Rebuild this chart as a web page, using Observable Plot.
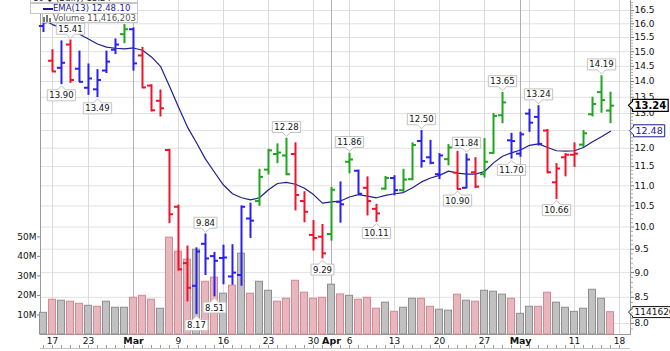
<!DOCTYPE html>
<html>
<head>
<meta charset="utf-8">
<script src="https://cdn.jsdelivr.net/npm/d3@7"></script>
<script src="https://cdn.jsdelivr.net/npm/@observablehq/plot@0.6"></script>
<style>
  body { margin: 0; background: #fff; }
  #wrap { position: relative; width: 670px; height: 351px; overflow: hidden; font-family: "DejaVu Sans", sans-serif; }
  #wrap svg { position: absolute; left: 0; top: 0; overflow: visible; }
  .lg { position: absolute; background: #fff; border: 1px solid #c6c6c6; box-sizing: border-box; font-size: 8.5px; line-height: 9px; white-space: nowrap; overflow: hidden; }
  .lg span { position: absolute; }
  #lg0 { left: 30px; top: -7px; width: 108px; height: 10px; color: #222; }
  #lg1 { left: 30px; top: 3px; width: 108px; height: 11px; color: #1c1c8c; }
  #lg2 { left: 42px; top: 13px; width: 96px; height: 10px; color: #555; }
  #baseline { position: absolute; left: 40px; top: 348px; width: 590px; height: 1px; background: #c4c4c4; }
</style>
</head>
<body>
<div id="wrap">
  <div id="chart"></div>
  <div id="baseline"></div>
  <div class="lg" id="lg0"><span style="left:2px;top:0px">10 ◆ (Daily) 13.24</span></div>
  <div class="lg" id="lg1"><span style="left:12px;top:3.5px;width:10px;height:2px;background:#1c1c8c"></span><span id="emaText" style="left:22px;top:-0.5px"></span></div>
  <div class="lg" id="lg2"><span style="left:0px;top:3px;width:2px;height:5px;background:#777"></span><span style="left:3px;top:1px;width:2px;height:7px;background:#777"></span><span style="left:6px;top:4px;width:2px;height:4px;background:#777"></span><span id="volText" style="left:10px;top:0px"></span></div>
</div>
<script>
// ---- data ----
const open = [15.92,14.69,14.45,15.25,14.42,13.8,13.75,14.36,15.07,15.62,
  15.8,14.87,13.87,13.39,11.95,10.48,9.2,8.73,9.62,9.35,
  9.31,8.92,8.95,10.2,10.62,11.42,11.84,11.8,11.84,10.62,
  9.82,9.78,9.84,10.6,11.63,11.39,10.95,10.43,10.93,11.2,
  10.89,11.17,12.2,11.75,11.3,11.7,11.34,10.95,11.35,11.3,
  11.87,12.95,12.22,11.85,13.0,12.9,12.5,11.09,11.75,11.82,
  12.1,12.98,13.66,13.09];
const high = [16.15,15.07,15.38,15.41,15.02,14.58,14.39,15.02,15.45,15.97,
  15.85,15.15,13.9,13.73,11.97,10.52,9.57,9.53,9.84,9.43,
  9.59,9.6,10.5,10.57,11.43,11.97,12.12,12.28,12.15,10.85,
  10.15,10.06,10.96,11.1,11.86,11.41,11.23,10.54,11.24,11.26,
  11.43,12.15,12.5,12.22,11.85,12.1,11.91,11.84,11.74,12.27,
  13.0,13.65,12.42,12.45,13.13,13.24,12.53,11.58,11.85,12.15,
  12.5,13.5,14.19,13.66];
const low = [15.68,14.31,13.9,13.94,13.97,13.56,13.49,14.26,14.9,15.28,
  14.34,13.77,13.05,12.9,10.08,9.03,8.41,8.17,8.94,8.51,
  8.75,8.74,8.72,9.74,10.49,11.28,11.58,11.26,10.38,10.1,
  9.46,9.29,9.68,10.09,11.31,10.79,10.26,10.11,10.89,10.75,
  10.83,11.13,11.46,11.55,11.16,11.52,10.9,10.92,10.93,11.2,
  11.83,12.7,11.7,11.75,12.45,12.06,11.31,10.66,11.23,11.48,
  12.02,12.9,13.01,12.7];
const close = [16.05,14.33,14.62,14.05,13.99,14.1,14.05,14.66,15.25,15.8,
  14.6,13.81,13.1,13.16,10.3,9.07,8.69,9.45,9.3,9.25,
  9.32,9.0,10.48,10.15,11.23,11.94,11.88,11.3,10.77,10.36,
  9.75,9.41,10.9,10.54,11.69,10.8,10.62,10.32,11.2,10.89,
  11.16,12.09,11.65,11.6,11.8,12.02,10.92,11.69,10.98,11.63,
  12.93,13.34,12.2,12.39,12.73,12.12,11.35,11.45,11.82,11.85,
  12.42,13.29,13.41,13.24];
const impulse = ["neutral","bear","neutral","bear","neutral","neutral","neutral","neutral","neutral","bull",
  "neutral","bear","bear","bear","bear","bear","bear","neutral","neutral","neutral",
  "neutral","neutral","neutral","neutral","bull","bull","bull","bull","bear","bear",
  "bear","bear","bull","neutral","bull","neutral","bear","bear","bull","neutral",
  "bull","bull","neutral","neutral","neutral","bull","bear","neutral","bear","bull",
  "bull","bull","neutral","neutral","neutral","neutral","bear","bear","bear","bear",
  "bull","bull","bull","bull"];
const volume = [11.1,17.8,17.3,16.8,15.7,14.7,14.2,16.8,13.7,13.7,
  18.8,19.8,17.8,13.2,49.6,42.4,38.3,43.4,27.0,29.1,
  20.9,25.0,41.4,20.9,27.0,22.4,16.8,18.3,27.5,21.4,
  18.3,18.8,25.5,20.5,19.8,17.8,18.8,13.2,16.3,11.6,
  13.7,18.3,18.3,14.2,12.7,12.2,20.4,17.3,16.8,22.4,
  21.9,20.4,18.3,10.6,14.2,14.2,21.4,16.3,13.7,11.6,
  13.2,22.9,18.3,11.416203].map(v => v * 1e6);
const ema13 = [16.15,15.97,15.85,15.74,15.62,15.45,15.27,15.16,15.12,15.1,
  15.13,15.05,14.82,14.5,13.85,13.2,12.6,12.15,11.7,11.35,
  11.02,10.8,10.7,10.65,10.7,10.9,11.06,11.09,11.04,10.94,
  10.78,10.57,10.6,10.62,10.72,10.78,10.74,10.7,10.76,10.8,
  10.83,10.95,11.1,11.2,11.27,11.38,11.33,11.3,11.3,11.37,
  11.6,11.78,11.87,11.95,12.08,12.12,12.02,11.93,11.92,11.93,
  12.02,12.18,12.32,12.48];
const pivots = [[3,"high"],[2,"low"],[6,"low"],[18,"high"],[17,"low"],[19,"low"],
  [27,"high"],[31,"low"],[34,"high"],[37,"low"],[42,"high"],[46,"low"],[47,"high"],
  [51,"high"],[52,"low"],[55,"high"],[57,"low"],[62,"high"]];
const priceTicks = [8,8.5,9,9.5,10,10.5,11,11.5,12,12.5,13,13.5,14,14.5,15,15.5,16,16.5];
const volumeTicks = [10e6,20e6,30e6,40e6,50e6];
const weekTicks = [1,5,15,20,25,30,34,39,44,49,59,64];
const weekLabels = ["17","23","9","16","23","30","6","13","20","27","11","18"];
const monthTicks = [10,32,53];
const monthLabels = ["Mar","Apr","May"];
const gridWeeks = [1,5,15,20,25,30,34,39,44,49,54,59,64];
const lastVolume = 11416203;

// ---- derived rows ----
const bars = open.map((o, i) => ({i, open: o, high: high[i], low: low[i], close: close[i], impulse: impulse[i]}));
const vols = volume.map((v, i) => ({i, v, up: i === 0 || close[i] >= close[i - 1]}));
const emaRows = ema13.map((e, i) => ({i, e}));
const pivotRows = pivots.map(([i, kind]) => ({i, kind, value: kind === "high" ? high[i] : low[i]}));
const lastClose = close[close.length - 1];
const lastEma = ema13[ema13.length - 1];
const minorTicks = d3.range(79, 169).map(d => d / 10).filter(d => Math.abs(d * 2 - Math.round(d * 2)) > 1e-6);
const dayTicks = d3.range(0, 65);

document.getElementById("emaText").textContent = "EMA(13) " + lastEma.toFixed(2) + "\u200A.10";
document.getElementById("volText").textContent = "Volume " + d3.format(",")(lastVolume);

const base = {
  width: 670, height: 351, marginLeft: 40, marginRight: 40, marginTop: 0, marginBottom: 17,
  style: {fontFamily: "DejaVu Sans, sans-serif", fontSize: "9px", background: "transparent", overflow: "visible", color: "#111"}
};
const xDomain = [-0.33, 65.22];
const priceY = {type: "log", domain: [7.8, 16.885]};

// layer A: grid and frame (price scale)
const layerA = Plot.plot({
  ...base,
  x: {domain: xDomain, axis: null},
  y: {...priceY, axis: null},
  marks: [
    Plot.ruleY(priceTicks, {stroke: "#e2e2e2"}),
    Plot.ruleX(gridWeeks, {stroke: "#dadada"}),
    Plot.ruleX(monthTicks, {stroke: "#b0b0b0"}),
    Plot.frame({anchor: "left", stroke: "#9a9a9a"}),
    Plot.frame({anchor: "bottom", stroke: "#9a9a9a"}),
    Plot.frame({anchor: "right", stroke: "#9a9a9a"})
  ]
});

// layer B: volume
const layerB = Plot.plot({
  ...base,
  x: {domain: xDomain},
  y: {domain: [0, 171e6]},
  marks: [
    Plot.rectY(vols, {filter: d => d.up, x1: d => d.i - 0.5, x2: d => d.i + 0.5, y: "v", insetLeft: 1, insetRight: 1, fill: "#c1c1c1", stroke: "#8e8e8e", strokeWidth: 1}),
    Plot.rectY(vols, {filter: d => !d.up, x1: d => d.i - 0.5, x2: d => d.i + 0.5, y: "v", insetLeft: 1, insetRight: 1, fill: "#e8b7be", stroke: "#d38893", strokeWidth: 1}),
    Plot.axisY({anchor: "left", ticks: volumeTicks, tickFormat: d => d / 1e6 + "M", tickSize: 3, tickPadding: 1, fontSize: 9, label: null, stroke: "#888"}),
    Plot.axisX({ticks: weekTicks, tickFormat: d => weekLabels[weekTicks.indexOf(d)], tickSize: 0, tickPadding: 3, fontSize: 9, label: null}),
    Plot.axisX({ticks: monthTicks, tickFormat: d => monthLabels[monthTicks.indexOf(d)], tickSize: 0, tickPadding: 3, fontSize: 9.5, fontWeight: "bold", label: null}),
    Plot.axisX({ticks: dayTicks, tickSize: 3, dy: 11, tickFormat: () => "", label: null, stroke: "#999"}),
    Plot.text([{v: lastVolume}], {y: "v", frameAnchor: "right", textAnchor: "start", dx: 4, text: d => String(d.v), fontSize: 9, fill: "#111", className: "tag-vol"})
  ]
});

// layer C: price bars, EMA, right axis, labels
const colorScale = {domain: ["bull", "bear", "neutral"], range: ["#1fa51f", "#f0132b", "#2b20f2"]};
const barMarks = [
  Plot.ruleX(bars, {x: "i", y1: "low", y2: "high", stroke: "impulse", strokeWidth: 2}),
  Plot.ruleY(bars, {y: "open", x1: d => d.i - 0.45, x2: d => d.i, stroke: "impulse", strokeWidth: 2}),
  Plot.ruleY(bars, {y: "close", x1: d => d.i, x2: d => d.i + 0.45, stroke: "impulse", strokeWidth: 2})
];
const layerC = Plot.plot({
  ...base,
  x: {domain: xDomain, axis: null},
  y: priceY,
  color: colorScale,
  marks: [
    Plot.axisY({anchor: "right", ticks: minorTicks, tickSize: 2, tickFormat: () => "", label: null, stroke: "#aaa"}),
    Plot.axisY({anchor: "right", ticks: priceTicks, tickSize: 3, tickPadding: 1, tickFormat: d => d.toFixed(1), fontSize: 9, label: null, stroke: "#777"}),
    Plot.line(emaRows, {x: "i", y: "e", stroke: "#1f1f8e", strokeWidth: 1.2}),
    ...barMarks,
    Plot.text(pivotRows, {filter: d => d.kind === "high", x: "i", y: "value", dy: -11, text: d => d.value.toFixed(2), fontSize: 8.5, fill: "#111", className: "pv-high"}),
    Plot.text(pivotRows, {filter: d => d.kind === "low", x: "i", y: "value", dy: 11, text: d => d.value.toFixed(2), fontSize: 8.5, fill: "#111", className: "pv-low"}),
    Plot.text([{v: lastEma}], {y: "v", frameAnchor: "right", textAnchor: "start", dx: 5, text: d => d.v.toFixed(2), fontSize: 9.5, fill: "#1c1c8c", className: "tag-ema"}),
    Plot.text([{v: lastClose}], {y: "v", frameAnchor: "right", textAnchor: "start", dx: 4, text: d => d.v.toFixed(2), fontSize: 10, fontWeight: "bold", fill: "#000", className: "tag-close"})
  ]
});

const host = document.getElementById("chart");
[layerA, layerB, layerC].forEach(svg => {
  svg.querySelectorAll("text").forEach(t => { if (!t.textContent.trim()) t.remove(); });
  host.appendChild(svg);
});

// label boxes with pointers, drawn behind the library-placed label texts
function boxify(svg, cls, kind, stroke, strokeWidth) {
  svg.querySelectorAll("." + cls + " text").forEach(t => {
    const b = t.getBBox();
    const padX = 2, padY = 0.5, p = 4;
    const x0 = b.x - padX, x1 = b.x + b.width + padX;
    const y0 = b.y - padY, y1 = b.y + b.height + padY;
    const cx = (x0 + x1) / 2, cy = (y0 + y1) / 2;
    let d;
    if (kind === "high") d = `M${x0},${y0}H${x1}V${y1}H${cx + p}L${cx},${y1 + p}L${cx - p},${y1}H${x0}Z`;
    else if (kind === "low") d = `M${x0},${y1}H${x1}V${y0}H${cx + p}L${cx},${y0 - p}L${cx - p},${y0}H${x0}Z`;
    else d = `M${x0},${y0}H${x1}V${y1}H${x0}V${cy + p}L${x0 - p},${cy}L${x0},${cy - p}Z`;
    const path = document.createElementNS("http://www.w3.org/2000/svg", "path");
    path.setAttribute("d", d);
    path.setAttribute("fill", "white");
    path.setAttribute("stroke", stroke);
    path.setAttribute("stroke-width", strokeWidth);
    if (t.getAttribute("transform")) path.setAttribute("transform", t.getAttribute("transform"));
    t.parentNode.insertBefore(path, t);
  });
}
boxify(layerC, "pv-high", "high", "#c2c2c2", 1);
boxify(layerC, "pv-low", "low", "#c2c2c2", 1);
boxify(layerC, "tag-ema", "left", "#1c1c8c", 1);
boxify(layerC, "tag-close", "left", "#000", 1.2);
boxify(layerB, "tag-vol", "left", "#111", 1);
</script>
</body>
</html>
